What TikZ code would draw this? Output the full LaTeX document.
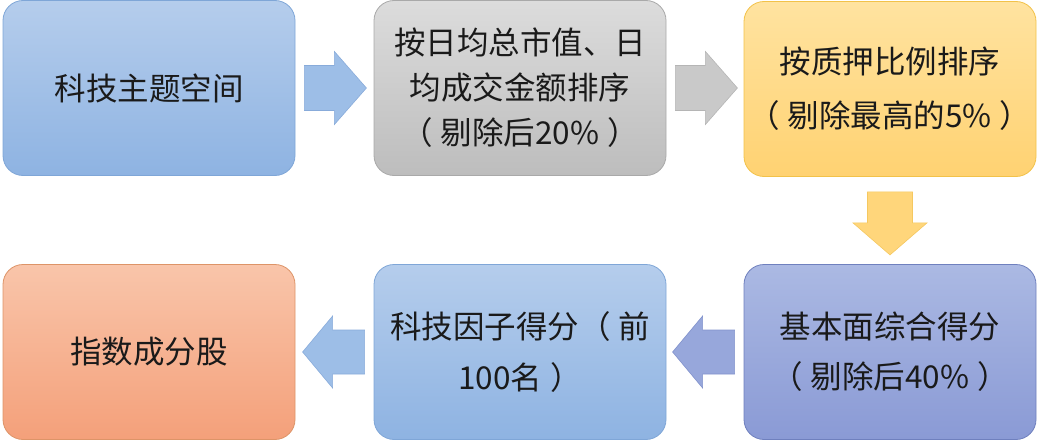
\documentclass[tikz,border=0pt]{standalone}
\usepackage{fontspec}
\setmainfont{Noto Sans CJK SC}
\usetikzlibrary{calc}
\definecolor{txt}{HTML}{1A1A1A}
\definecolor{blueT}{HTML}{B5CDEC}
\definecolor{blueB}{HTML}{8EB3E2}
\definecolor{blueD}{HTML}{7FA6D7}
\definecolor{grayT}{HTML}{DCDCDC}
\definecolor{grayB}{HTML}{BDBDBD}
\definecolor{grayD}{HTML}{A9A9A9}
\definecolor{yelT}{HTML}{FFE3A0}
\definecolor{yelB}{HTML}{FFD272}
\definecolor{yelD}{HTML}{F2C24A}
\definecolor{purT}{HTML}{ABB9E3}
\definecolor{purB}{HTML}{8A9AD5}
\definecolor{purD}{HTML}{6F80BE}
\definecolor{salT}{HTML}{F9C5AA}
\definecolor{salB}{HTML}{F4A07A}
\definecolor{salD}{HTML}{DD9468}
\definecolor{arBlue}{HTML}{9DBEE7}
\definecolor{arBlueD}{HTML}{88ABDA}
\definecolor{arGray}{HTML}{C9C9C9}
\definecolor{arGrayD}{HTML}{B5B5B5}
\definecolor{arYel}{HTML}{FFD67B}
\definecolor{arYelD}{HTML}{F5C860}
\definecolor{arPur}{HTML}{97A7DB}
\definecolor{arPurD}{HTML}{8192CC}
\newcommand{\lpar}{（\hspace{8pt}}
\newcommand{\rpar}{\hspace{8pt}）}
\tikzset{
  box/.style={rectangle, rounded corners=20pt, minimum width=292pt, minimum height=175pt,
    inner sep=0pt, line width=0.8pt, align=center, text=txt,
    font=\fontsize{31.5}{45}\selectfont},
  bluebox/.style={box, draw=blueD, top color=blueT, bottom color=blueB},
  graybox/.style={box, draw=grayD, top color=grayT, bottom color=grayB},
  yelbox/.style={box, draw=yelD, top color=yelT, bottom color=yelB},
  purbox/.style={box, draw=purD, top color=purT, bottom color=purB},
  salbox/.style={box, draw=salD, top color=salT, bottom color=salB},
  blockar/.style={line width=0.6pt, line join=miter},
}
\begin{document}
\begin{tikzpicture}[x=1pt,y=-1pt]
\useasboundingbox (0,0) rectangle (1039,444);
\node[bluebox] (b1) at (149,88) {科技主题空间};
\node[graybox] (b2) at (520,88) {按日均总市值、日\\均成交金额排序\\\lpar 剔除后20\%\rpar};
\node[yelbox, font=\fontsize{31.5}{54}\selectfont] (b3) at (890,89) {按质押比例排序\\\lpar 剔除最高的5\%\rpar};
\node[purbox, font=\fontsize{31.5}{50}\selectfont] (b4) at (890,352) {基本面综合得分\\\lpar 剔除后40\%\rpar};
\node[bluebox, font=\fontsize{31.5}{51}\selectfont] (b5) at (520,352) {科技因子得分\lpar 前\\100名\rpar};
\node[salbox] (b6) at (149,352) {指数成分股};
% right arrows
\draw[blockar, fill=arBlue, draw=arBlueD] ($(b1.east)+(9,-22.5)$) -- ++(30,0) -- ++(0,-14) -- ++(32,36.5) -- ++(-32,36.5) -- ++(0,-14) -- ++(-30,0) -- cycle;
\draw[blockar, fill=arGray, draw=arGrayD] ($(b2.east)+(9,-22.5)$) -- ++(30,0) -- ++(0,-14) -- ++(32,36.5) -- ++(-32,36.5) -- ++(0,-14) -- ++(-30,0) -- cycle;
% down arrow
\draw[blockar, fill=arYel, draw=arYelD] ($(b3.south)+(-22.5,15)$) -- ++(45,0) -- ++(0,31) -- ++(14.5,0) -- ++(-37,32) -- ++(-37,-32) -- ++(14.5,0) -- cycle;
% left arrows
\draw[blockar, fill=arPur, draw=arPurD] ($(b4.west)+(-9,-22)$) -- ++(-32,0) -- ++(0,-14) -- ++(-30,36) -- ++(30,36) -- ++(0,-14) -- ++(32,0) -- cycle;
\draw[blockar, fill=arBlue, draw=arBlueD] ($(b5.west)+(-9,-22)$) -- ++(-32,0) -- ++(0,-14) -- ++(-30,36) -- ++(30,36) -- ++(0,-14) -- ++(32,0) -- cycle;
\end{tikzpicture}
\end{document}
